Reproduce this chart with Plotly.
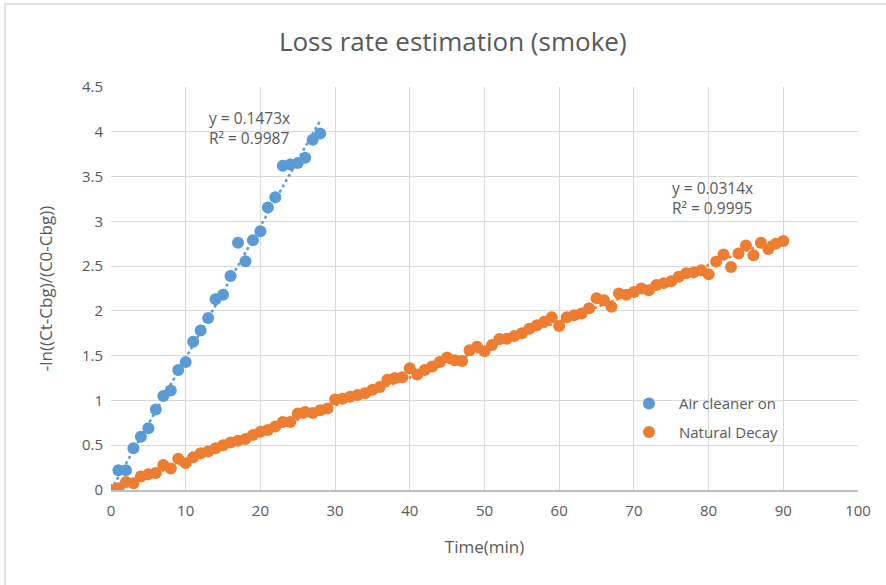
import plotly.graph_objects as go

# Data
air_x = list(range(0, 29))
air_y = [0.0, 0.22, 0.22, 0.465, 0.595, 0.69, 0.90, 1.05, 1.11, 1.34, 1.43, 1.655, 1.78, 1.92,
         2.13, 2.18, 2.39, 2.76, 2.555, 2.79, 2.89, 3.155, 3.27, 3.62, 3.635, 3.65, 3.71, 3.91, 3.98]

nat_x = list(range(0, 91))
nat_y = [0.0, 0.02, 0.09, 0.075, 0.15, 0.175, 0.19, 0.28, 0.24, 0.35,
         0.30, 0.365, 0.41, 0.43, 0.465, 0.50, 0.53, 0.55, 0.57, 0.615,
         0.65, 0.67, 0.71, 0.76, 0.76, 0.855, 0.87, 0.86, 0.89, 0.91,
         1.01, 1.02, 1.04, 1.06, 1.08, 1.12, 1.15, 1.23, 1.25, 1.26,
         1.36, 1.29, 1.34, 1.38, 1.43, 1.48, 1.45, 1.44, 1.56, 1.60,
         1.55, 1.62, 1.685, 1.69, 1.72, 1.75, 1.80, 1.84, 1.88, 1.93,
         1.83, 1.93, 1.95, 1.97, 2.03, 2.14, 2.12, 2.045, 2.195, 2.18,
         2.21, 2.25, 2.23, 2.29, 2.31, 2.33, 2.38, 2.42, 2.43, 2.455,
         2.41, 2.55, 2.63, 2.49, 2.64, 2.73, 2.62, 2.76, 2.69, 2.75, 2.78]

air_slope = 0.1473
air_r2 = 0.9987
nat_slope = 0.0314
nat_r2 = 0.9995

x_ticks = list(range(0, 101, 10))
y_ticks = [0, 0.5, 1, 1.5, 2, 2.5, 3, 3.5, 4, 4.5]
y_tick_text = ["0", "0.5", "1", "1.5", "2", "2.5", "3", "3.5", "4", "4.5"]

BLUE = "#5B9BD5"
ORANGE = "#ED7D31"
TXT = "#595959"
FONT = "Open Sans"

fig = go.Figure()

fig.add_trace(go.Scatter(x=air_x, y=air_y, mode="markers", name="Air cleaner on", legendgroup="a",
                         marker=dict(color=BLUE, size=12, line=dict(width=0))))
fig.add_trace(go.Scatter(x=[0, air_x[-1]], y=[0, air_slope * air_x[-1]], mode="lines",
                         line=dict(color=BLUE, width=2.5, dash="dot"), showlegend=False,
                         hoverinfo="skip"))
fig.add_trace(go.Scatter(x=nat_x, y=nat_y, mode="markers", name="Natural Decay", legendgroup="b",
                         marker=dict(color=ORANGE, size=12, line=dict(width=0))))
fig.add_trace(go.Scatter(x=[0, nat_x[-1]], y=[0, nat_slope * nat_x[-1]], mode="lines",
                         line=dict(color=ORANGE, width=2.5, dash="dot"), showlegend=False,
                         hoverinfo="skip"))

fig.add_annotation(x=12.8, y=4.3, xref="x", yref="y", xanchor="left", yanchor="top",
                   text=f"y = {air_slope}x<br>R² = {air_r2}", showarrow=False, align="left",
                   font=dict(family=FONT, size=15.5, color=TXT))
fig.add_annotation(x=74.8, y=3.52, xref="x", yref="y", xanchor="left", yanchor="top",
                   text=f"y = {nat_slope}x<br>R² = {nat_r2}", showarrow=False, align="left",
                   font=dict(family=FONT, size=15.5, color=TXT))

# outer chart border
fig.add_shape(type="rect", xref="paper", yref="paper", x0=-0.1419, x1=1.1, y0=-0.3, y1=1.206,
              line=dict(color="#D9D9D9", width=1.5), fillcolor="rgba(0,0,0,0)", layer="below")

fig.update_layout(
    width=886, height=585,
    margin=dict(l=111, r=28, t=87, b=95, autoexpand=False),
    paper_bgcolor="white", plot_bgcolor="white",
    title=dict(text="Loss rate estimation (smoke)", x=0.511, xanchor="center", y=0.928, yanchor="middle",
               font=dict(family=FONT, size=26, color=TXT)),
    font=dict(family=FONT, color=TXT),
    legend=dict(x=0.68, y=0.255, xanchor="left", yanchor="top", bgcolor="rgba(0,0,0,0)",
                font=dict(family=FONT, size=15, color=TXT), itemwidth=50,
                traceorder="grouped", tracegroupgap=6),
    xaxis=dict(range=[0, 100], tickvals=x_ticks, showgrid=True, gridcolor="#D9D9D9", gridwidth=1,
               zeroline=False, showline=True, linecolor="#BFBFBF", linewidth=1.5,
               ticks="", automargin=False, ticklabelstandoff=6,
               tickfont=dict(family=FONT, size=15, color=TXT),
               title=dict(text="Time(min)", font=dict(family=FONT, size=17, color=TXT), standoff=22)),
    yaxis=dict(range=[0, 4.5], tickvals=y_ticks, ticktext=y_tick_text, showgrid=True,
               gridcolor="#D9D9D9", gridwidth=1, zeroline=False, showline=False, automargin=False,
               ticklabelstandoff=7,
               tickfont=dict(family=FONT, size=15, color=TXT),
               title=dict(text="-ln((Ct-Cbg)/(C0-Cbg))", font=dict(family=FONT, size=17, color=TXT),
                          standoff=24)),
)

fig.write_html("out.html", config={"displayModeBar": False},
               post_script="document.body.style.margin='0px';")
